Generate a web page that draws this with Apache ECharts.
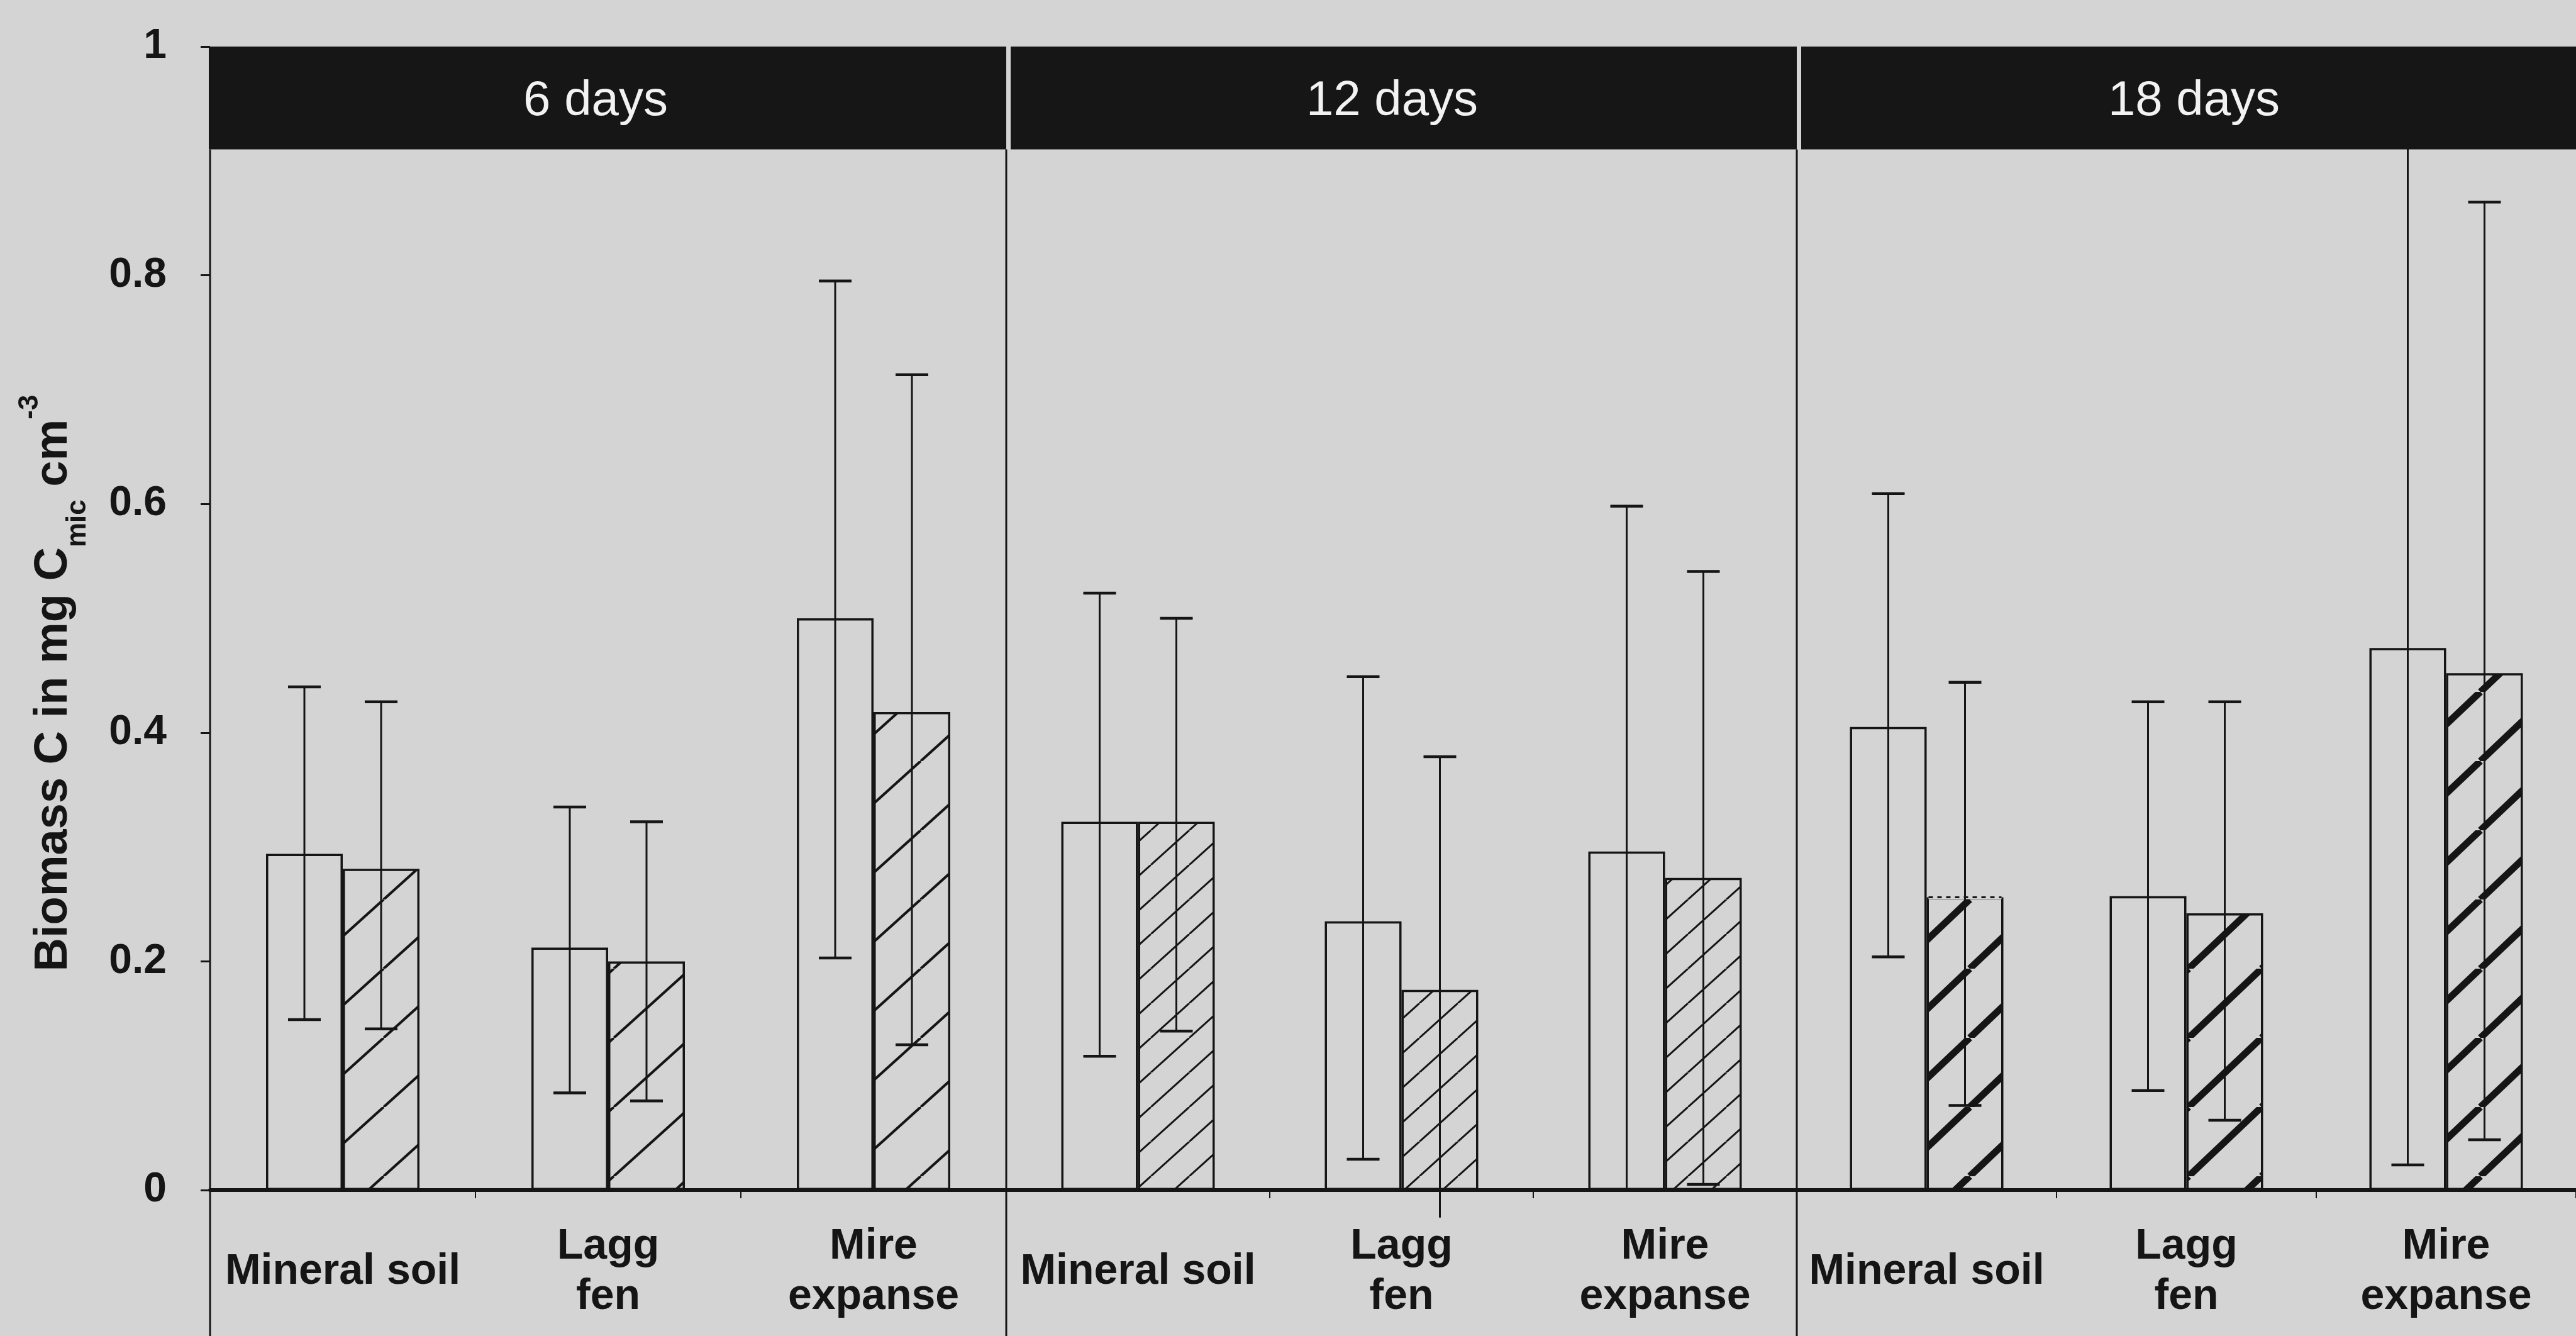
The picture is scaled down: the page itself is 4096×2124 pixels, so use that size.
<!DOCTYPE html>
<html><head><meta charset="utf-8">
<script src="https://cdn.jsdelivr.net/npm/echarts@6/dist/echarts.min.js"></script>
<style>html,body{margin:0;padding:0;background:#d4d4d4;overflow:hidden}#c{width:4096px;height:2124px;}</style>
</head><body><div id="c"></div>
<script>
// ---------------- data ----------------
const panelTitles = ['6 days', '12 days', '18 days'];
const sites = ['Mineral soil', 'Lagg\nfen', 'Mire\nexpanse'];
const yMin = 0, yMax = 1, yStep = 0.2;
// open bars (per panel: Mineral soil, Lagg fen, Mire expanse)
const openMean  = [[0.294, 0.212, 0.500], [0.322, 0.235, 0.296], [0.405, 0.257, 0.474]];
const openLow   = [[0.149, 0.085, 0.203], [0.117, 0.027, 0.000], [0.204, 0.087, 0.022]];
const openHigh  = [[0.440, 0.335, 0.795], [0.522, 0.449, 0.598], [0.609, 0.427, 0.950]];
// hatched bars
const hatchMean = [[0.281, 0.200, 0.418], [0.322, 0.175, 0.273], [0.256, 0.242, 0.452]];
const hatchLow  = [[0.141, 0.078, 0.127], [0.139, -0.024, 0.005], [0.074, 0.061, 0.044]];
const hatchHigh = [[0.427, 0.322, 0.713], [0.500, 0.379, 0.541], [0.444, 0.427, 0.864]];
// hatched bar whose top edge is dotted: [panel, site]
const dottedTop = [[2, 0]];
// header band value range
const headerBand = [0.91, 1];

// ---------------- styles ----------------
const BG = '#d4d4d4', INK = '#151515', BAND = '#161616';
const FONT = "'Liberation Sans', Arial, Helvetica, sans-serif";
const GRID_TOP = 74, GRID_H = 1818;
const PANEL_LEFT = [334, 1600, 2857], PANEL_W = [1266, 1257, 1262];
const BAR_W = 122, CAP_W = 52;
const HATCH = [{w: 122, h: 110, lw: 4.2}, {w: 61, h: 55, lw: 3}, {w: 116, h: 110, lw: 11}];
const BAND_INSET = [-2, 7, 7];
const BAND_TEXT_DX = [-20, -15, 12];

function makeHatch(p) {
  const c = document.createElement('canvas');
  c.width = p.w; c.height = p.h;
  const g = c.getContext('2d');
  g.strokeStyle = INK; g.lineWidth = p.lw;
  for (let k = -1; k <= 1; k++) {
    g.beginPath(); g.moveTo(k * p.w, p.h); g.lineTo(k * p.w + p.w, 0); g.stroke();
  }
  return c;
}

function renderErr(params, api) {
  const cat = api.value(0), lo = api.value(1), hi = api.value(2), side = api.value(3);
  const pHi = api.coord([cat, hi]), pLo = api.coord([cat, lo]);
  const x = pHi[0] + side * BAR_W / 2;
  const ch = [
    {type: 'line', shape: {x1: x, y1: pHi[1], x2: x, y2: pLo[1]}, style: {stroke: INK, lineWidth: 3}},
    {type: 'line', shape: {x1: x - CAP_W / 2, y1: pHi[1], x2: x + CAP_W / 2, y2: pHi[1]}, style: {stroke: INK, lineWidth: 4.5}}
  ];
  if (lo >= 0) ch.push({type: 'line', shape: {x1: x - CAP_W / 2, y1: pLo[1], x2: x + CAP_W / 2, y2: pLo[1]}, style: {stroke: INK, lineWidth: 4.5}});
  return {type: 'group', children: ch};
}

function makeBandRenderer(p) {
  return function (params, api) {
    const cs = params.coordSys;
    const yTop = api.coord([0, api.value(2)])[1], yBot = api.coord([0, api.value(1)])[1];
    const x0 = cs.x + BAND_INSET[p];
    return {type: 'group', children: [
      {type: 'line', shape: {x1: cs.x, y1: yBot, x2: cs.x, y2: api.getHeight()}, style: {stroke: INK, lineWidth: 3}},
      {type: 'rect', shape: {x: x0, y: yTop, width: cs.x + cs.width - x0, height: yBot - yTop}, style: {fill: BAND}},
      {type: 'text', x: cs.x + cs.width / 2 + BAND_TEXT_DX[p], y: (yTop + yBot) / 2 + 6,
        style: {text: panelTitles[p], fill: '#f2f2f2', fontSize: 78, fontFamily: FONT, align: 'center', verticalAlign: 'middle'}}
    ]};
  };
}

const grids = [], xAxes = [], yAxes = [], series = [];
for (let p = 0; p < 3; p++) {
  grids.push({left: PANEL_LEFT[p], top: GRID_TOP, width: PANEL_W[p], height: GRID_H, containLabel: false});
  xAxes.push({
    type: 'category', gridIndex: p, data: sites, z: 6,
    axisLine: {show: true, lineStyle: {color: INK, width: 6}},
    axisTick: {show: true, length: 13, lineStyle: {color: INK, width: 2}},
    axisLabel: {interval: 0, margin: 130, verticalAlign: 'middle', fontSize: 68, fontWeight: 'bold',
      lineHeight: 80, color: INK, fontFamily: FONT},
    splitLine: {show: false}
  });
  yAxes.push({
    type: 'value', gridIndex: p, min: yMin, max: yMax, interval: yStep, show: p === 0,
    axisLine: {show: false},
    axisTick: {show: true, length: 15, lineStyle: {color: INK, width: 3}},
    axisLabel: {margin: 69, fontSize: 66, fontWeight: 'bold', color: INK, fontFamily: FONT},
    splitLine: {show: false}
  });
  series.push({type: 'bar', xAxisIndex: p, yAxisIndex: p, data: openMean[p], barWidth: BAR_W, barGap: '0%', z: 2,
    itemStyle: {color: 'rgba(0,0,0,0)', borderColor: INK, borderWidth: 3.5}});
  series.push({type: 'bar', xAxisIndex: p, yAxisIndex: p, data: hatchMean[p], barWidth: BAR_W, barGap: '0%', z: 2,
    itemStyle: {color: {image: makeHatch(HATCH[p]), repeat: 'repeat'}, borderColor: INK, borderWidth: 3.5}});
  const err = [];
  for (let s = 0; s < sites.length; s++) {
    err.push([s, openLow[p][s], openHigh[p][s], -1]);
    err.push([s, hatchLow[p][s], hatchHigh[p][s], 1]);
  }
  series.push({type: 'custom', xAxisIndex: p, yAxisIndex: p, data: err, z: 3, clip: false, renderItem: renderErr});
  series.push({type: 'custom', xAxisIndex: p, yAxisIndex: p, data: [[0, headerBand[0], headerBand[1]]], z: 5,
    clip: false, renderItem: makeBandRenderer(p)});
}
dottedTop.forEach(function (d) {
  const p = d[0], s = d[1];
  series.push({type: 'custom', xAxisIndex: p, yAxisIndex: p, data: [[s, hatchMean[p][s]]], z: 2.5, clip: false,
    renderItem: function (params, api) {
      const pt = api.coord([api.value(0), api.value(1)]);
      return {type: 'group', children: [
        {type: 'line', shape: {x1: pt[0] + 3, y1: pt[1], x2: pt[0] + BAR_W - 3, y2: pt[1]}, style: {stroke: BG, lineWidth: 6}},
        {type: 'line', shape: {x1: pt[0] + 3, y1: pt[1], x2: pt[0] + BAR_W - 3, y2: pt[1]}, style: {stroke: INK, lineWidth: 3, lineDash: [7, 7]}}
      ]};
    }});
});

const chart = echarts.init(document.getElementById('c'), null, {renderer: 'canvas'});
chart.setOption({
  backgroundColor: BG,
  animation: false,
  grid: grids, xAxis: xAxes, yAxis: yAxes, series: series,
  graphic: [{
    type: 'text', x: 86, y: 1086, rotation: Math.PI / 2,
    style: {
      text: '{a|Biomass C in mg C}{sub|mic}{a| cm}{sup|-3}',
      align: 'center', verticalAlign: 'middle', fill: INK,
      rich: {
        a: {fontSize: 74, fontWeight: 'bold', fontFamily: FONT, fill: INK, lineHeight: 120, verticalAlign: 'middle'},
        sub: {fontSize: 44, fontWeight: 'bold', fontFamily: FONT, fill: INK, lineHeight: 44, verticalAlign: 'bottom'},
        sup: {fontSize: 44, fontWeight: 'bold', fontFamily: FONT, fill: INK, lineHeight: 96, verticalAlign: 'top'}
      }
    }
  }]
});
</script></body></html>
